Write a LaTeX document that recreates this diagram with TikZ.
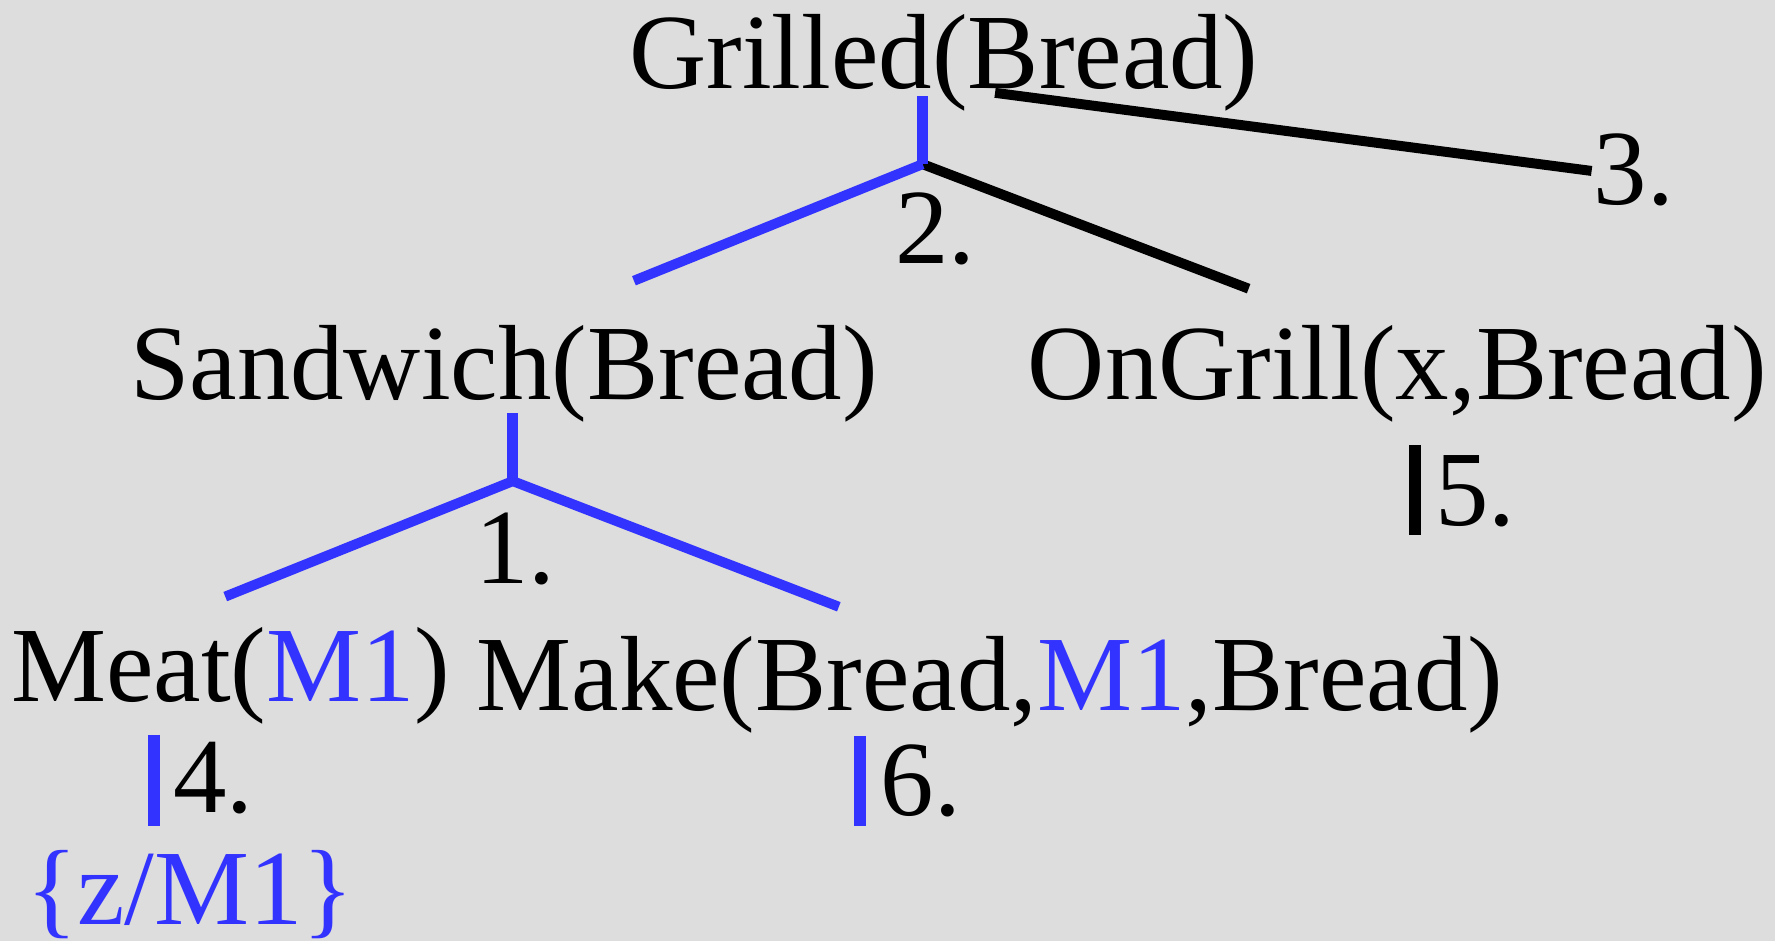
\documentclass[tikz,border=0pt]{standalone}
\usepackage{fontspec}
\setmainfont{Liberation Serif}
\definecolor{bg}{HTML}{DDDDDD}
\definecolor{myblue}{HTML}{3333FF}
\begin{document}
\begin{tikzpicture}[x=0.5pt,y=-0.5pt,
  lbl/.style={inner sep=0pt,outer sep=0pt,anchor=base west,font=\fontsize{47.2}{56}\selectfont},
  bl/.style={line width=4.4pt,draw=myblue},
  blstem/.style={line width=4.8pt,draw=myblue},
  bk/.style={line width=4.4pt,draw=black},
  barb/.style={line width=5.4pt,draw=myblue},
  bark/.style={line width=5.4pt,draw=black}]
\fill[bg] (0,0) rectangle (1568,831.3);
\useasboundingbox (0,0) rectangle (1568,831.3);
% texts
\node[lbl] (grilled) at (556,78) {Grilled(Bread)};
\node[lbl] (n2) at (791,233) {2.};
\node[lbl] (n3) at (1408,181) {3.};
\node[lbl] (sandwich) at (115,353) {Sandwich(Bread)};
\node[lbl] (ongrill) at (908,353) {OnGrill(x,Bread)};
\node[lbl] (n1) at (420,515) {1.};
\node[lbl] (n5) at (1268,464) {5.};
\node[lbl] (meat) at (10,620) {Meat(\textcolor{myblue}{M1})};
\node[lbl] (make) at (421,628) {Make(Bread,\textcolor{myblue}{M1},Bread)};
\node[lbl] (n4) at (153,718) {4.};
\node[lbl] (n6) at (778,720) {6.};
\node[lbl,text=myblue] (subst) at (23,817) {\{z/M1\}};
% coordinates
\coordinate (gstem) at (815,85);
\coordinate (j2) at (815,145);
\coordinate (swtop) at (560,248);
\coordinate (ogtop) at (1103,255);
\coordinate (g3a) at (879,82);
\coordinate (g3b) at (1406,151);
\coordinate (swstem) at (453,365);
\coordinate (j1) at (453,425);
\coordinate (meattop) at (199,527);
\coordinate (maketop) at (741,536);
\coordinate (b4a) at (136,649);
\coordinate (b4b) at (136,730);
\coordinate (b5a) at (1250,393);
\coordinate (b5b) at (1250,473);
\coordinate (b6a) at (760,650);
\coordinate (b6b) at (760,730);
% connectors
\draw[bk] (j2) -- (ogtop);
\draw[bk] (g3a) -- (g3b);
\draw[blstem] (gstem) -- (j2);
\draw[bl] (j2) -- (swtop);
\draw[blstem] (swstem) -- (j1);
\draw[bl] (meattop) -- (j1) -- (maketop);
\draw[barb] (b4a) -- (b4b);
\draw[bark] (b5a) -- (b5b);
\draw[barb] (b6a) -- (b6b);
\end{tikzpicture}
\end{document}
